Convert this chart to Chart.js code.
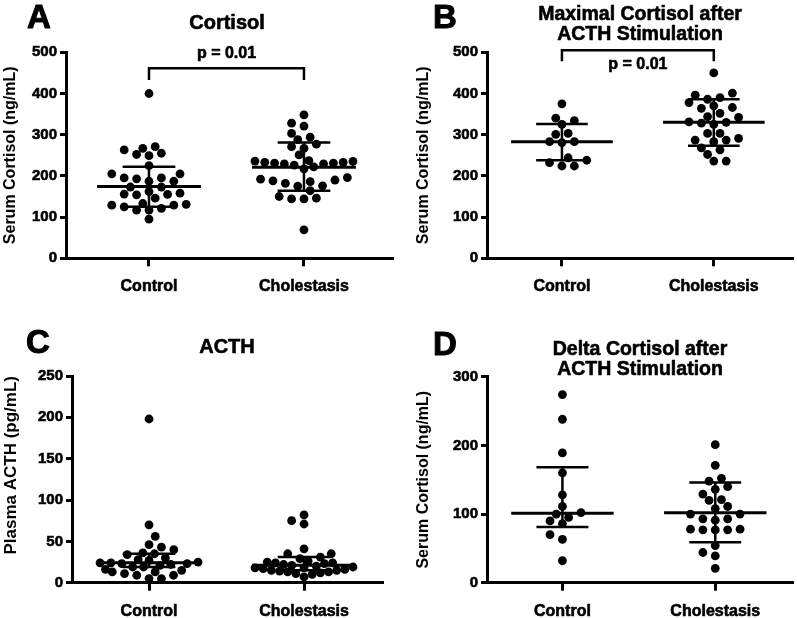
<!DOCTYPE html>
<html><head><meta charset="utf-8">
<script src="https://cdn.jsdelivr.net/npm/chart.js@4/dist/chart.umd.min.js"></script>
<style>
html,body{margin:0;padding:0;background:#fff;}
#wrap{position:relative;width:797px;height:618px;overflow:hidden;background:#fff;}
canvas{position:absolute;}
</style></head><body>
<div id="wrap">
<canvas id="cA" width="400" height="300" style="left:0px;top:0px"></canvas>
<canvas id="cB" width="397" height="300" style="left:400px;top:0px"></canvas>
<canvas id="cC" width="400" height="318" style="left:0px;top:300px"></canvas>
<canvas id="cD" width="397" height="318" style="left:400px;top:300px"></canvas>
</div>
<script>
// ---------- DATA ----------
const groups = ['Control', 'Cholestasis'];

// Panel A: Cortisol (ng/mL)
const cortisolControl = [400, 271, 267, 263, 255, 252, 249, 225, 205, 205, 195, 193, 195, 187, 187, 173, 173, 162, 158, 156, 155, 154, 146, 133, 131, 129, 129, 125, 121, 117, 117, 95];
const cortisolCholestasis = [348, 328, 321, 303, 294, 288, 277, 271, 267, 251, 237, 236, 235, 233, 233, 231, 231, 229, 229, 226, 222, 217, 196, 192, 190, 188, 186, 182, 176, 175, 164, 150, 146, 144, 144, 69];
const cortisolControlIQR = [125, 174, 222];      // [Q1, median, Q3]
const cortisolCholestasisIQR = [164, 221, 281];

// Panel B: Maximal cortisol after ACTH stimulation (ng/mL)
const maxCortisolControl = [375, 340, 334, 325, 303, 301, 283, 283, 281, 244, 238, 232, 224, 224];
const maxCortisolCholestasis = [450, 401, 396, 390, 386, 378, 370, 366, 364, 352, 344, 342, 331, 330, 328, 325, 303, 303, 291, 287, 287, 283, 268, 263, 252, 236, 236];
const maxCortisolControlIQR = [238, 283, 326];
const maxCortisolCholestasisIQR = [273, 330, 386];

// Panel C: Plasma ACTH (pg/mL)
const acthControl = [198, 70, 56, 46, 43, 40, 36, 35, 34, 30, 28, 27, 25, 24, 24, 23, 23, 22, 21, 19, 19, 16, 15, 13, 13, 11, 9, 9, 5, 5];
const acthCholestasis = [82, 75, 71, 41, 35, 35, 31, 29, 26, 25, 24, 24, 23, 22, 21, 20, 19, 18, 18, 17, 16, 15, 15, 14, 13, 13, 12, 11, 10, 7];
const acthControlIQR = [19, 24, 35];
const acthCholestasisIQR = [15, 21, 31];

// Panel D: Delta cortisol after ACTH stimulation (ng/mL)
const deltaControl = [274, 238, 189, 160, 128, 111, 102, 100, 95, 90, 86, 70, 63, 32];
const deltaCholestasis = [201, 171, 152, 148, 140, 136, 129, 121, 120, 111, 108, 100, 100, 93, 93, 91, 78, 78, 77, 77, 77, 54, 44, 39, 21];
const deltaControlIQR = [81, 101, 168];
const deltaCholestasisIQR = [59, 102, 146];

// Tick settings
const cortisolTicks = [0, 500, 100];   // [min, max, step]
const acthTicks = [0, 250, 50];
const deltaTicks = [0, 300, 100];

const pValueA = 'p = 0.01';
const pValueB = 'p = 0.01';

// ---------- DRAWING ----------
const FONT = "'Liberation Sans', Arial, sans-serif";
const HEAVY = 0.6; // extra stroke to mimic the heavy bold face of the original

function swarm(pys, step, minD, cap) {
  const idx = pys.map((_, i) => i).sort((a, b) => pys[b] - pys[a]);
  const placed = [];
  const out = new Array(pys.length).fill(0);
  idx.forEach((i, n) => {
    const y = pys[i];
    const sgn = n % 2 ? 1 : -1;
    for (let k = 0; k < 80; k++) {
      const m = Math.ceil(k / 2) * (k % 2 ? sgn : -sgn);
      const cx = m * step;
      const ok = placed.every(p => (p.x - cx) ** 2 + (p.y - y) ** 2 >= minD * minD - 1e-6);
      if (ok) { out[i] = cx; placed.push({x: cx, y}); break; }
    }
  });
  // compress crowded bands so a swarm never grows wider than the cap
  return out.map((x, i) => {
    let w = 0;
    pys.forEach((y, j) => { if (Math.abs(y - pys[i]) < minD) w = Math.max(w, Math.abs(out[j])); });
    return w > cap ? x * cap / w : x;
  });
}

function heavyText(ctx, t, x, y) {
  ctx.fillText(t, x, y);
  ctx.strokeText(t, x, y);
}

function makePanel(p) {
  const deco = {
    id: 'deco' + p.letter,
    afterDatasetsDraw(chart) {
      const {ctx, scales: {x, y}} = chart;
      ctx.save();
      ctx.strokeStyle = '#000';
      ctx.lineCap = 'butt';
      p.stats.forEach((st, gi) => {
        const c = gi + 1;
        const [q1, med, q3] = st;
        const xc = x.getPixelForValue(c);
        ctx.lineWidth = 3;
        ctx.beginPath();
        ctx.moveTo(x.getPixelForValue(c - 0.335), y.getPixelForValue(med));
        ctx.lineTo(x.getPixelForValue(c + 0.335), y.getPixelForValue(med));
        ctx.stroke();
        ctx.lineWidth = 2.5;
        ctx.beginPath();
        ctx.moveTo(xc, y.getPixelForValue(q1));
        ctx.lineTo(xc, y.getPixelForValue(q3));
        [q1, q3].forEach(q => {
          ctx.moveTo(x.getPixelForValue(c - 0.17), y.getPixelForValue(q));
          ctx.lineTo(x.getPixelForValue(c + 0.17), y.getPixelForValue(q));
        });
        ctx.stroke();
      });
      ctx.restore();
    },
    afterDraw(chart) {
      const {ctx, scales: {x, y}} = chart;
      ctx.save();
      ctx.fillStyle = '#000';
      ctx.strokeStyle = '#000';
      ctx.lineJoin = 'round';
      ctx.lineWidth = HEAVY;
      ctx.textAlign = 'left';
      ctx.textBaseline = 'alphabetic';
      ctx.font = 'bold 33px ' + FONT;
      ctx.lineWidth = 1;
      heavyText(ctx, p.letter, p.letterPos[0], p.letterPos[1]);
      ctx.lineWidth = HEAVY;
      ctx.textAlign = 'center';
      ctx.font = 'bold ' + p.titleSize + 'px ' + FONT;
      p.title.forEach((t, i) => heavyText(ctx, t, p.titleX, p.titleY[i]));
      if (p.bracket) {
        const b = p.bracket;
        const xa = x.getPixelForValue(1), xb = x.getPixelForValue(2);
        const yb = y.getPixelForValue(b.bar), yl = y.getPixelForValue(b.leg);
        ctx.lineWidth = 2.5;
        ctx.lineJoin = 'miter';
        ctx.beginPath();
        ctx.moveTo(xa, yl); ctx.lineTo(xa, yb); ctx.lineTo(xb, yb); ctx.lineTo(xb, yl);
        ctx.stroke();
        ctx.lineJoin = 'round';
        ctx.lineWidth = HEAVY;
        ctx.font = 'bold 16px ' + FONT;
        ctx.textBaseline = 'middle';
        heavyText(ctx, b.text, (xa + xb) / 2, y.getPixelForValue(b.textAt));
      }
      ctx.restore();
    }
  };

  const axisGrid = (len) => ({drawOnChartArea: false, drawTicks: true, tickLength: len, tickWidth: 3, tickColor: '#000', color: '#000', lineWidth: 3});
  const chart = new Chart(document.getElementById(p.canvas), {
    type: 'scatter',
    data: {
      datasets: p.values.map((vals, gi) => ({
        data: vals.map(v => ({x: gi + 1, y: v})),
        pointRadius: 4.4,
        pointHoverRadius: 4.4,
        pointBackgroundColor: '#000',
        pointBorderWidth: 0,
        showLine: false,
        clip: false
      }))
    },
    options: {
      responsive: false,
      animation: false,
      events: [],
      layout: {padding: p.padding},
      plugins: {legend: {display: false}, tooltip: {enabled: false}, title: {display: false}},
      scales: {
        x: {
          type: 'linear', position: 'bottom', min: p.xRange[0], max: p.xRange[1],
          afterBuildTicks: s => { s.ticks = [{value: 1}, {value: 2}]; },
          afterFit: s => { s.height = p.xHeight; },
          ticks: {callback: v => groups[v - 1] || '', font: {family: FONT, size: 16, weight: 'bold'}, color: '#000', padding: 11, maxRotation: 0, autoSkip: false, textStrokeColor: '#000', textStrokeWidth: HEAVY},
          grid: axisGrid(8),
          border: {display: true, color: '#000', width: 3}
        },
        y: {
          min: p.ticks[0], max: p.ticks[1],
          afterFit: s => { s.width = p.yWidth; },
          ticks: {stepSize: p.ticks[2], font: {family: FONT, size: 15, weight: 'bold'}, color: '#000', padding: 3, textStrokeColor: '#000', textStrokeWidth: HEAVY},
          title: {display: true, text: p.yTitle, align: p.yTitleAlign, font: {family: FONT, size: p.yTitleSize, weight: 'bold'}, color: '#000', padding: {top: 1, bottom: 0}},
          grid: axisGrid(6),
          border: {display: true, color: '#000', width: 3}
        }
      }
    },
    plugins: [deco]
  });

  // beeswarm layout of the dots, computed from the library's own scales
  const xs = chart.scales.x, ys = chart.scales.y;
  const unit = xs.getPixelForValue(2) - xs.getPixelForValue(1);
  chart.data.datasets.forEach((ds, gi) => {
    const vals = p.values[gi];
    const offs = swarm(vals.map(v => ys.getPixelForValue(v)), 6.2, 8.7, 49);
    ds.data = vals.map((v, i) => ({x: gi + 1 + offs[i] / unit, y: v}));
  });
  chart.update('none');
  return chart;
}

makePanel({
  canvas: 'cA', letter: 'A', letterPos: [27, 28],
  title: ['Cortisol'], titleX: 227, titleY: [28.5], titleSize: 20,
  values: [cortisolControl, cortisolCholestasis],
  stats: [cortisolControlIQR, cortisolCholestasisIQR],
  ticks: cortisolTicks, yTitle: 'Serum Cortisol (ng/mL)', yTitleAlign: 'center', yTitleSize: 16,
  padding: {left: 0, top: 52.3, right: 8, bottom: 0},
  yWidth: 66, xHeight: 41.7, xRange: [0.4645, 2.568],
  bracket: {bar: 461, leg: 433, textAt: 498, text: pValueA}
});
makePanel({
  canvas: 'cB', letter: 'B', letterPos: [33, 28],
  title: ['Maximal Cortisol after', 'ACTH Stimulation'], titleX: 240, titleY: [19.5, 40], titleSize: 19.5,
  values: [maxCortisolControl, maxCortisolCholestasis],
  stats: [maxCortisolControlIQR, maxCortisolCholestasisIQR],
  ticks: cortisolTicks, yTitle: 'Serum Cortisol (ng/mL)', yTitleAlign: 'center', yTitleSize: 16,
  padding: {left: 13, top: 52.3, right: 0, bottom: 0},
  yWidth: 74, xHeight: 41.7, xRange: [0.5065, 2.519],
  bracket: {bar: 505, leg: 478, textAt: 469, text: pValueB}
});
makePanel({
  canvas: 'cC', letter: 'C', letterPos: [26, 53],
  title: ['ACTH'], titleX: 227, titleY: [53], titleSize: 20,
  values: [acthControl, acthCholestasis],
  stats: [acthControlIQR, acthCholestasisIQR],
  ticks: acthTicks, yTitle: 'Plasma ACTH (pg/mL)', yTitleAlign: 'end', yTitleSize: 17,
  padding: {left: 0, top: 76, right: 18, bottom: 0},
  yWidth: 72, xHeight: 35.3, xRange: [0.503, 2.503],
  bracket: null
});
makePanel({
  canvas: 'cD', letter: 'D', letterPos: [33, 55],
  title: ['Delta Cortisol after', 'ACTH Stimulation'], titleX: 240, titleY: [55, 75], titleSize: 19.5,
  values: [deltaControl, deltaCholestasis],
  stats: [deltaControlIQR, deltaCholestasisIQR],
  ticks: deltaTicks, yTitle: 'Serum Cortisol (ng/mL)', yTitleAlign: 'center', yTitleSize: 16,
  padding: {left: 13, top: 76.7, right: 2, bottom: 0},
  yWidth: 74, xHeight: 35.3, xRange: [0.5065, 2.506],
  bracket: null
});
</script>
</body></html>
